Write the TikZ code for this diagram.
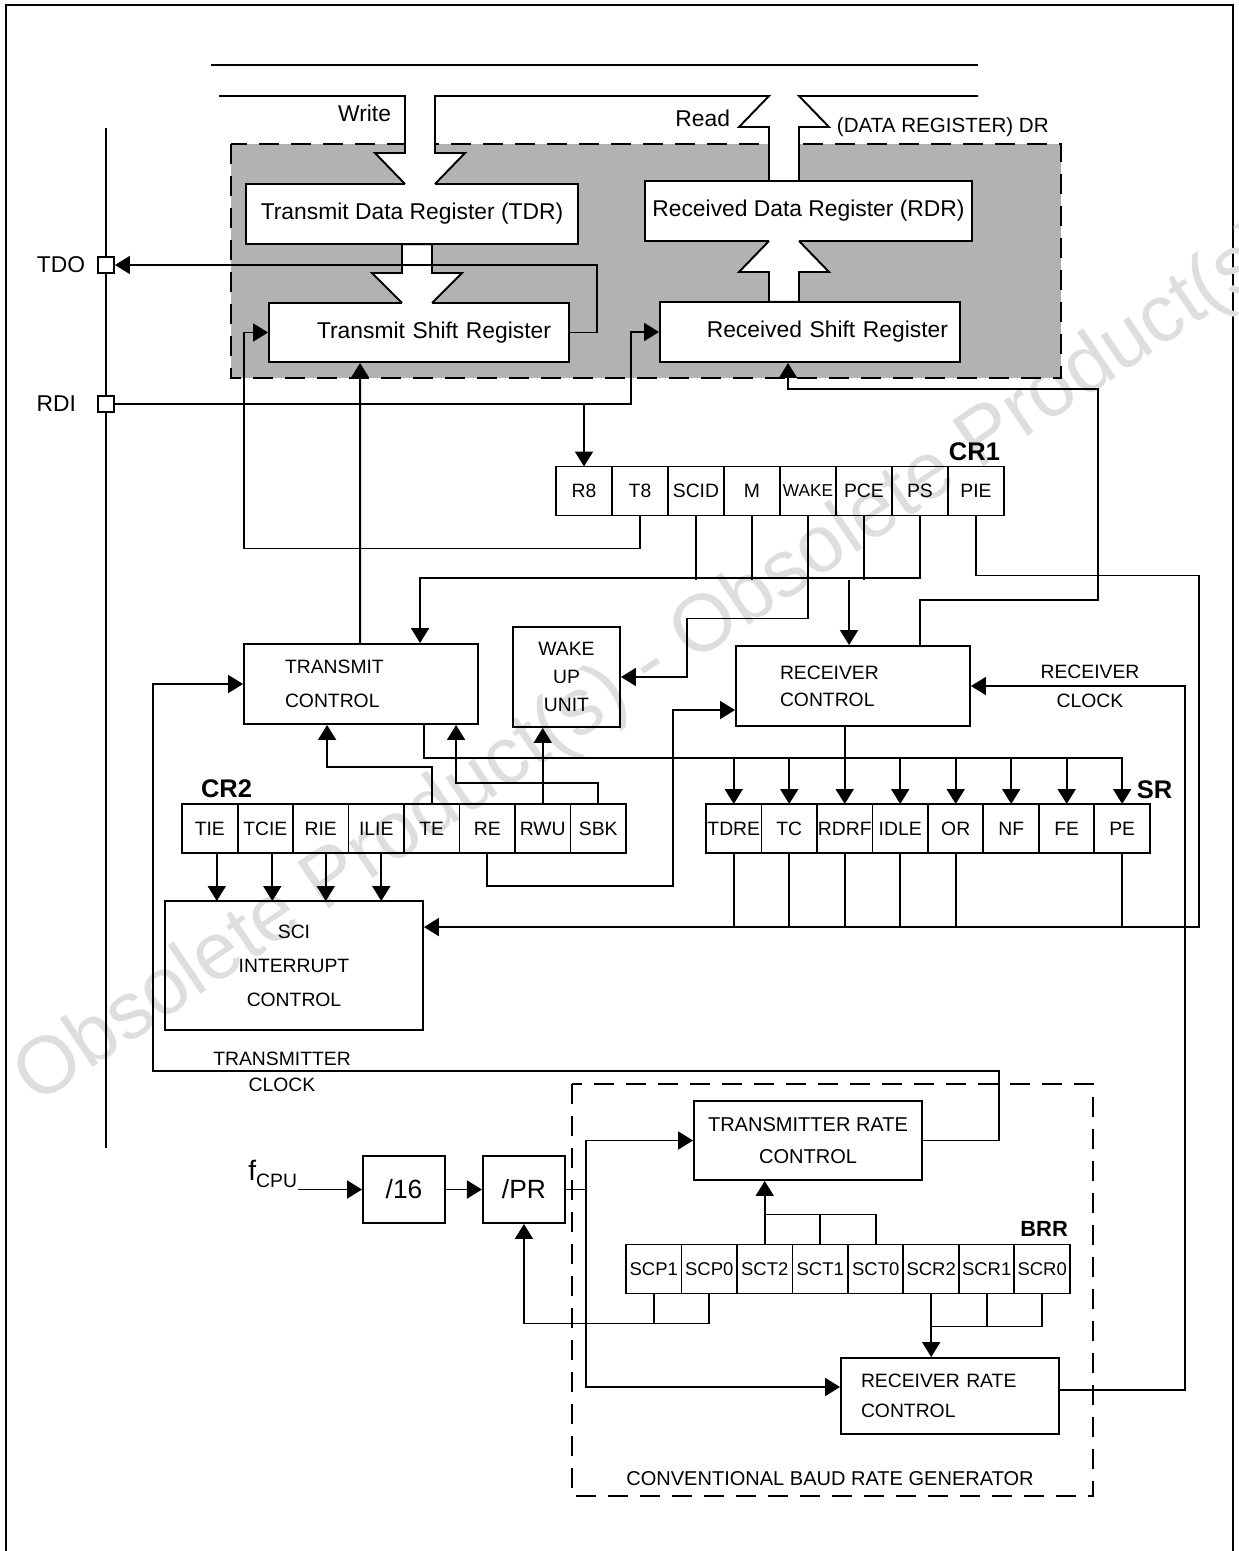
\documentclass[tikz,border=0pt]{standalone}
\usepackage{fontspec}
\setmainfont{Liberation Sans}
\usetikzlibrary{arrows.meta, positioning, calc}

\begin{document}
\begin{tikzpicture}[
  x=0.02cm, y=-0.02cm,
  line width=1.1pt,
  node distance = 0pt,
  regnode/.style = {rectangle, draw, fill=white, line width=1.1pt,
    minimum height=1.2cm, inner sep=0pt, font=\fontsize{13}{15}\selectfont},
  ctlnode/.style = {rectangle, draw, line width=1.1pt, inner sep=0pt,
    align=center, font=\fontsize{11}{15}\selectfont},
  bitnode/.style = {rectangle, draw, line width=1.1pt, outer sep=0pt,
    inner sep=0pt, minimum width=1.11cm, minimum height=0.98cm,
    font=\fontsize{11}{13}\selectfont},
  pinnode/.style = {rectangle, draw, fill=white, line width=1.1pt,
    minimum size=0.32cm, inner sep=0pt},
  reglabel/.style = {font=\fontsize{14.5}{15}\selectfont\bfseries, inner sep=0pt},
  txtnode/.style = {font=\fontsize{11}{15}\selectfont, inner sep=0pt, align=center},
  arrow/.style = {-{Triangle[length=0.3cm,width=0.36cm]}, line width=1.1pt},
  dashbox/.style = {dash pattern=on 0.4cm off 0.24cm, line width=1.1pt},
]
\useasboundingbox (0,0) rectangle (1239,1551);
% Frame and watermark
\draw[line width=1.2pt] (6,1551) -- (6,5) -- (1233,5) -- (1233,1551);
\node[rotate=34, anchor=base west, inner sep=0pt, text=black!13,
  font=\fontsize{46}{46}\selectfont] (mark) at (36,1106)
  {Obsolete Product(s) - Obsolete Product(s)};

% Shaded data register area
\fill[black!30] (231,144) rectangle (1061,378);
\draw[dashbox] (231,144) rectangle (1061,378);
\draw (211,65) -- (978,65);

% Registers inside the shaded area
\node[regnode, minimum width=6.64cm] (tdr) at (412,214) {Transmit Data Register (TDR)};
\node[regnode, minimum width=6.54cm] (rdr) at (808.5,211) {Received Data Register (RDR)};
\node[regnode, minimum width=6cm, minimum height=1.18cm, text width=5.28cm,
  align=right] (tsr) at (419,332.5) {Transmit Shift Register};
\node[regnode, minimum width=6cm, text width=5.52cm, align=right]
  (rsr) at (810,332) {Received Shift Register};

% Hollow bus arrows
\fill[white] (405,96) -- (405,153) -- (375,153) -- (405,184) -- (405,186) -- (435,186)
  -- (435,184) -- (465,153) -- (435,153) -- (435,96) -- cycle;
\fill[white] (769,96) -- (739,127) -- (769,127) -- (769,180) -- (799,180) -- (799,127)
  -- (829,127) -- (799,96) -- cycle;
\fill[white] (402,245.5) -- (402,273) -- (372,273) -- (402,303) -- (402,305) -- (432,305)
  -- (432,303) -- (462,273) -- (432,273) -- (432,245.5) -- cycle;
\fill[white] (769,300.5) -- (769,272) -- (739,272) -- (769,241) -- (769,239) -- (799,239)
  -- (799,241) -- (829,272) -- (799,272) -- (799,300.5) -- cycle;
\draw (219,96) -- (405,96) -- (405,153) -- (375,153) -- (405,184);
\draw (435,184) -- (465,153) -- (435,153) -- (435,96) -- (769,96) -- (739,127)
  -- (769,127) -- (769,181);
\draw (799,181) -- (799,127) -- (829,127) -- (799,96) -- (978,96);
\draw (402,244) -- (402,273) -- (372,273) -- (402,303);
\draw (432,244) -- (432,273) -- (462,273) -- (432,303);
\draw (769,302) -- (769,272) -- (739,272) -- (769,241);
\draw (799,302) -- (799,272) -- (829,272) -- (799,241);

% Bus labels
\node[txtnode, anchor=east, font=\fontsize{13}{15}\selectfont] (writelab) at (392,113) {Write};
\node[txtnode, anchor=east, font=\fontsize{13}{15}\selectfont] (readlab) at (731,118) {Read};
\node[txtnode, anchor=west, font=\fontsize{11.7}{14}\selectfont] (drlab) at (836,127) {(DATA REGISTER) DR};

% Pins
\draw (106,128) -- (106,1148);
\node[pinnode] (tdo) at (106,265) {};
\node[pinnode] (rdi) at (106,404) {};
\node[left=0.22cm of tdo, inner sep=0pt, font=\fontsize{13}{15}\selectfont] (tdolab) {TDO};
\node[left=0.4cm of rdi, inner sep=0pt, font=\fontsize{13}{15}\selectfont] (rdilab) {RDI};

% CR1
\node[bitnode, minimum width=1.12cm] (R8) at (584,491) {R8};
\node[bitnode, minimum width=1.12cm, right=of R8] (T8) {T8};
\node[bitnode, minimum width=1.12cm, right=of T8] (SCID) {SCID};
\node[bitnode, minimum width=1.12cm, right=of SCID] (M) {M};
\node[bitnode, minimum width=1.12cm, right=of M, font=\fontsize{9.8}{12}\selectfont] (WAKE) {WAKE};
\node[bitnode, minimum width=1.12cm, right=of WAKE] (PCE) {PCE};
\node[bitnode, minimum width=1.12cm, right=of PCE] (PS) {PS};
\node[bitnode, minimum width=1.12cm, right=of PS] (PIE) {PIE};
\node[reglabel, above left=0.1cm and 0.06cm of PIE.north east] (cr1lab) {CR1};

% Control blocks
\node[ctlnode, minimum width=4.68cm, minimum height=1.6cm, text width=3.04cm,
  align=left, font=\fontsize{11}{19.3}\selectfont] (txctrl) at (361,684) {TRANSMIT\\CONTROL};
\node[ctlnode, minimum width=2.14cm, minimum height=2cm,
  font=\fontsize{11}{15.9}\selectfont] (wuu) at (566.5,677) {WAKE\\UP\\UNIT};
\node[ctlnode, minimum width=4.68cm, minimum height=1.6cm, text width=2.92cm,
  align=left, font=\fontsize{11}{15.3}\selectfont] (rc) at (853,686) {RECEIVER\\CONTROL};
\node[ctlnode, minimum width=5.16cm, minimum height=2.58cm,
  font=\fontsize{11}{19.3}\selectfont] (sci) at (294,965.5) {SCI\\INTERRUPT\\CONTROL};
\node[txtnode, font=\fontsize{11}{16.4}\selectfont] (rxclklab) at (1090,686) {RECEIVER\\CLOCK};
\node[txtnode, font=\fontsize{11}{14.7}\selectfont] (txclklab) at (282,1072) {TRANSMITTER\\CLOCK};

% CR2
\node[bitnode] (TIE) at (209.8,828.5) {TIE};
\node[bitnode, right=of TIE] (TCIE) {TCIE};
\node[bitnode, right=of TCIE] (RIE) {RIE};
\node[bitnode, right=of RIE] (ILIE) {ILIE};
\node[bitnode, right=of ILIE] (TE) {TE};
\node[bitnode, right=of TE] (RE) {RE};
\node[bitnode, right=of RE] (RWU) {RWU};
\node[bitnode, right=of RWU] (SBK) {SBK};
\node[reglabel, above right=0.1cm and 0.36cm of TIE.north west] (cr2lab) {CR2};

% SR
\node[bitnode] (TDRE) at (733.75,828.5) {TDRE};
\node[bitnode, right=of TDRE] (TC) {TC};
\node[bitnode, right=of TC] (RDRF) {RDRF};
\node[bitnode, right=of RDRF] (IDLE) {IDLE};
\node[bitnode, right=of IDLE] (OR) {OR};
\node[bitnode, right=of OR] (NF) {NF};
\node[bitnode, right=of NF] (FE) {FE};
\node[bitnode, right=of FE] (PE) {PE};
\node[reglabel, anchor=south west] (srlab) at ($(PE.north east)+(-14,-4)$) {SR};

% Baud rate generator
\draw[dashbox] (572,1084) rectangle (1093,1496);
\node[txtnode, font=\fontsize{11.4}{15}\selectfont] (brglab) at (830,1479) {CONVENTIONAL BAUD RATE GENERATOR};
\node[ctlnode, minimum width=4.56cm, minimum height=1.58cm,
  font=\fontsize{11.4}{18.2}\selectfont] (trc) at (808,1140.5) {TRANSMITTER RATE\\CONTROL};
\node[ctlnode, minimum width=4.36cm, minimum height=1.52cm, text width=3.56cm,
  align=left, font=\fontsize{11}{17}\selectfont] (rrc) at (950,1396) {RECEIVER RATE\\CONTROL};
\node[ctlnode, minimum width=1.64cm, minimum height=1.34cm,
  font=\fontsize{15}{17}\selectfont] (div16) at (404,1189.5) {/16};
\node[ctlnode, minimum width=1.64cm, minimum height=1.34cm,
  font=\fontsize{15}{17}\selectfont, right=0.72cm of div16] (divpr) {/PR};
\node[inner sep=0pt, anchor=east] (fcpu) at (298,1174)
  {\fontsize{16}{16}\selectfont f\raisebox{-0.45ex}{\fontsize{11}{11}\selectfont CPU}};

% BRR
\node[bitnode, font=\fontsize{10.5}{12}\selectfont] (SCP1) at (653.75,1269) {SCP1};
\node[bitnode, font=\fontsize{10.5}{12}\selectfont, right=of SCP1] (SCP0) {SCP0};
\node[bitnode, font=\fontsize{10.5}{12}\selectfont, right=of SCP0] (SCT2) {SCT2};
\node[bitnode, font=\fontsize{10.5}{12}\selectfont, right=of SCT2] (SCT1) {SCT1};
\node[bitnode, font=\fontsize{10.5}{12}\selectfont, right=of SCT1] (SCT0) {SCT0};
\node[bitnode, font=\fontsize{10.5}{12}\selectfont, right=of SCT0] (SCR2) {SCR2};
\node[bitnode, font=\fontsize{10.5}{12}\selectfont, right=of SCR2] (SCR1) {SCR1};
\node[bitnode, font=\fontsize{10.5}{12}\selectfont, right=of SCR1] (SCR0) {SCR0};
\node[reglabel, font=\fontsize{12.5}{14}\selectfont\bfseries,
  above left=0.14cm and 0.02cm of SCR0.north east] (brrlab) {BRR};

% Connection points
\coordinate (crbus) at ($(SCID.south)+(0,64)$);
\coordinate (rcdown) at ($(rc.north west)+(114,0)$);
\coordinate (srbus) at ($(txctrl.south west)+(181,33)$);
\coordinate (sciin) at ($(sci.north east)+(0,27)$);
\coordinate (rcin) at ($(rc.west)+(0,24)$);
\coordinate (rrcin) at ($(rrc.west)+(0,-9)$);
\coordinate (txclk) at (153,1071);

% Shift registers and pins
\draw[arrow] (tsr.east) -- ++(27,0) |- (tdo.east);
\draw[arrow] (rdi.east) -| ($(rsr.west)+(-28,0)$) -- (rsr.west);
\draw[arrow] (R8.north |- rdi) -- (R8.north);
\draw[arrow] (T8.south) -- ++(0,33) -| ($(tsr.west)+(-24,0)$) -- (tsr.west);
\draw[arrow] ($(txctrl.north west)+(117,0)$) -- ($(tsr.south west)+(92,0)$);
\draw[arrow] ($(rc.north west)+(185,0)$) -- ++(0,-45) -| ++(178,-211)
  -| ($(rsr.south west)+(129,0)$);

% CR1 outputs
\draw (SCID.south) -- (crbus);
\draw (M.south) -- (M.south |- crbus);
\draw (PCE.south) -- (PCE.south |- crbus);
\draw[arrow] (PS.south) |- ($(txctrl.north west)+(177,-65)$) -- ($(txctrl.north west)+(177,0)$);
\draw[arrow] (rcdown |- crbus) -- (rcdown);
\draw[arrow] (WAKE.south) -- ++(0,103) -| ($(wuu.east)+(66,0)$) -- (wuu.east);
\draw[arrow] (PIE.south) -- ++(0,60) -| ($(sciin)+(775,0)$) -- (sciin);

% CR2 outputs
\draw[arrow] ([xshift=0.14cm]TIE.south) -- ++(0,48);
\draw[arrow] ([xshift=0.14cm]TCIE.south) -- ++(0,48);
\draw[arrow] ([xshift=0.1cm]RIE.south) -- ++(0,48);
\draw[arrow] ([xshift=0.1cm]ILIE.south) -- ++(0,48);
\draw[arrow] (TE.north) -- ++(0,-37) -| ($(txctrl.south west)+(84,0)$);
\draw[arrow] (SBK.north) -- ++(0,-21) -| ($(txctrl.south west)+(213,0)$);
\draw[arrow] (RWU.north) -- (RWU.north |- wuu.south);
\draw[arrow] (RE.south) -- ++(0,33) -| ($(rcin)+(-62,0)$) -- (rcin);

% Status flags
\draw[arrow] ($(txctrl.south west)+(181,0)$) -- (srbus) -| (PE.north);
\draw[arrow] (TDRE.north |- srbus) -- (TDRE.north);
\draw[arrow] (TC.north |- srbus) -- (TC.north);
\draw[arrow] (RDRF.north |- rc.south) -- (RDRF.north);
\draw[arrow] (IDLE.north |- srbus) -- (IDLE.north);
\draw[arrow] (OR.north |- srbus) -- (OR.north);
\draw[arrow] (NF.north |- srbus) -- (NF.north);
\draw[arrow] (FE.north |- srbus) -- (FE.north);
\draw (TDRE.south) -- (TDRE.south |- sciin);
\draw (TC.south) -- (TC.south |- sciin);
\draw (RDRF.south) -- (RDRF.south |- sciin);
\draw (IDLE.south) -- (IDLE.south |- sciin);
\draw (OR.south) -- (OR.south |- sciin);
\draw (PE.south) -- (PE.south |- sciin);

% Clocks
\draw[arrow] (fcpu.east |- div16.west) -- (div16.west);
\draw[arrow] (div16.east) -- (divpr.west);
\draw (divpr.east) -- ++(20,0) coordinate (prsplit);
\draw[arrow] (prsplit) |- (trc.west);
\draw[arrow] (prsplit) |- (rrcin);
\draw[arrow] (trc.east) -- ++(76,0) |- (txclk) |- (txctrl.west);
\draw[arrow] ($(rrc.east)+(0,-6)$) -| ($(rc.east)+(214,0)$) -- (rc.east);

% BRR outputs
\draw (SCP1.south) -- ++(0,30);
\draw[arrow] (SCP0.south) -- ++(0,30) -| (divpr.south);
\draw (SCT1.north) -- ++(0,-30);
\draw (SCT0.north) -- ++(0,-30) -| (SCT2.north);
\draw[arrow] (SCT2.north) -- (SCT2.north |- trc.south);
\draw (SCR1.south) -- ++(0,33);
\draw (SCR0.south) -- ++(0,33) -| (SCR2.south);
\draw[arrow] (SCR2.south) -- (SCR2.south |- rrc.north);
\end{tikzpicture}
\end{document}
